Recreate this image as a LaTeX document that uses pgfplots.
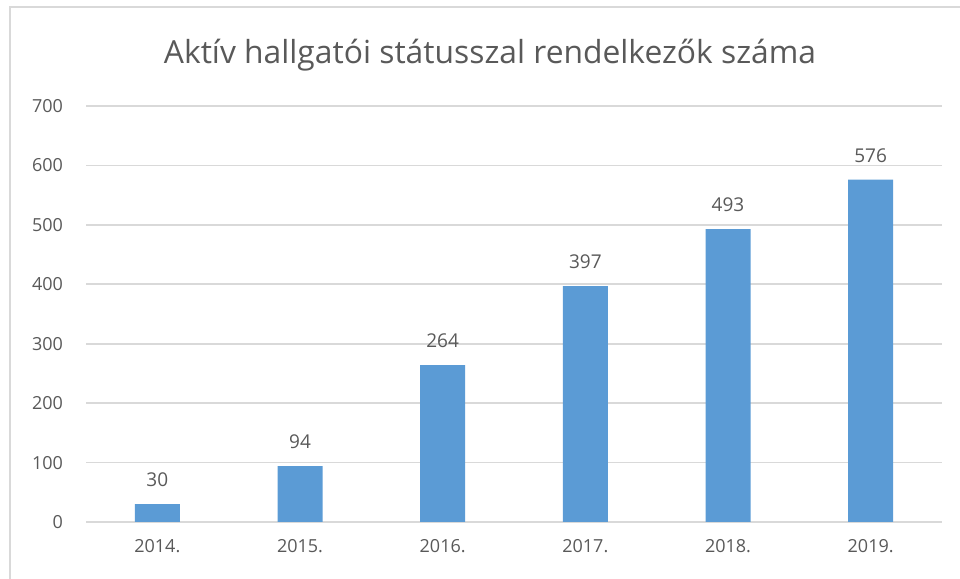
\documentclass[border=0pt]{standalone}
\usepackage{pgfplots}
\pgfplotsset{compat=1.18}
\usepackage{fontspec}
\setmainfont{Open Sans}
\definecolor{barblue}{HTML}{5B9BD5}
\definecolor{gridgray}{HTML}{D9D9D9}
\definecolor{txtgray}{HTML}{595959}
\begin{document}
\begin{tikzpicture}
\path[use as bounding box] (0,0) rectangle (480pt,289.5pt);
\draw[gridgray,line width=1pt] (5pt,-1pt) -- (5pt,286pt) -- (481pt,286pt);
\node[txtgray,font=\fontsize{15.9}{19}\selectfont] at (245pt,262pt) {Aktív hallgatói státusszal rendelkezők száma};
\begin{axis}[
  at={(43pt,28.5pt)}, anchor=south west,
  scale only axis, width=428pt, height=208pt,
  xmin=-0.5, xmax=5.5, ymin=0, ymax=700,
  ytick={0,100,...,700},
  xtick=data,
  xticklabels={2014.,2015.,2016.,2017.,2018.,2019.},
  axis line style={draw=none},
  major tick length=0pt,
  ymajorgrids, grid style={gridgray,line width=0.8pt},
  /pgf/number format/assume math mode=true,
  ticklabel style={font=\fontsize{9}{11}\selectfont, text=txtgray},
  yticklabel style={xshift=-8pt},
  xticklabel style={yshift=-5pt},
  ybar, bar width=22.5pt,
  nodes near coords,
  every node near coord/.append style={font=\fontsize{9.5}{11}\selectfont, text=txtgray, anchor=center, yshift=12pt},
]
\addplot[fill=barblue, draw=none] coordinates {(0,30) (1,94) (2,264) (3,397) (4,493) (5,576)};
\end{axis}
\end{tikzpicture}
\end{document}
